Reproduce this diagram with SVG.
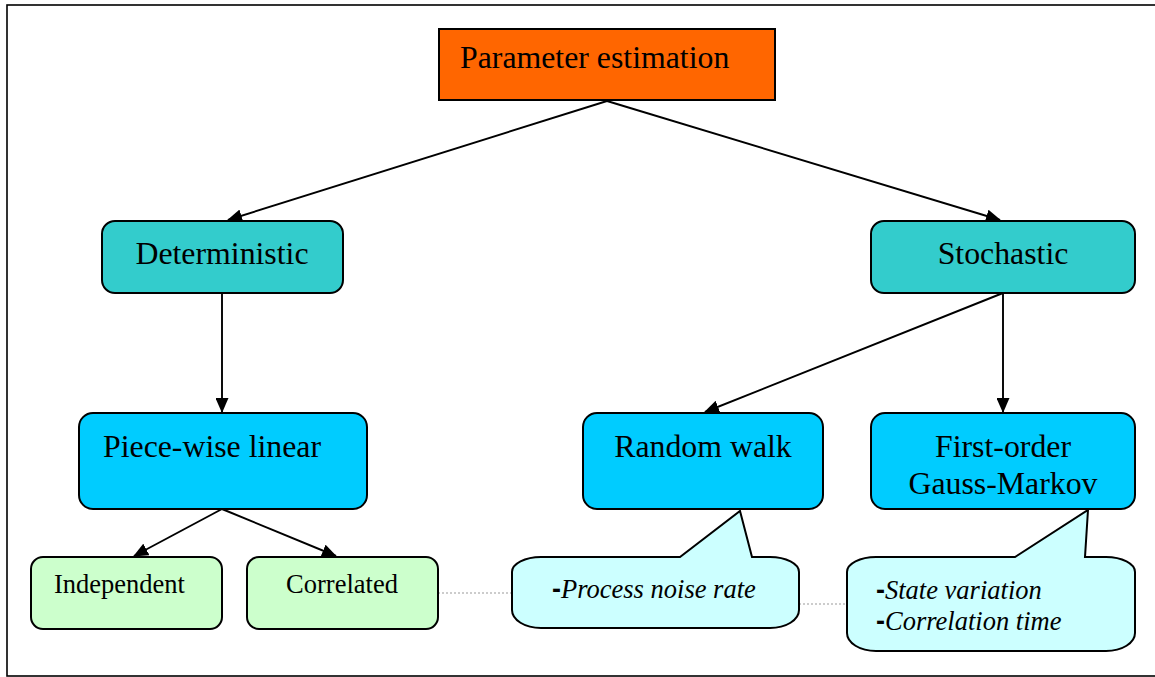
<svg xmlns="http://www.w3.org/2000/svg" width="1155" height="677" viewBox="0 0 1155 677">
<style>
.box{stroke:#000;stroke-width:2}
.t{font-family:"Liberation Serif","Times New Roman",serif;fill:#000}
.big{font-size:31.8px}
.sm{font-size:26.5px}
.it{font-style:italic}
.dash{font-family:"Liberation Sans",Arial,sans-serif;font-style:normal;font-size:27px;font-weight:bold}
.conn{stroke:#000;stroke-width:1.9;fill:none;marker-end:url(#ah)}
.dot{stroke:#999;stroke-width:1;stroke-dasharray:2,2;fill:none}
</style>
<defs>
<marker id="ah" markerUnits="userSpaceOnUse" markerWidth="15" markerHeight="13" refX="14" refY="6.5" orient="auto">
<path d="M0,0 L15,6.5 L0,13 z" fill="#000"/>
</marker>
</defs>
<rect x="0" y="0" width="1155" height="677" fill="#fff"/>
<rect x="7" y="5" width="1160" height="671" fill="none" stroke="#000" stroke-width="1.6"/>

<g id="connectors">
<line class="conn" x1="607" y1="101" x2="228" y2="220"/>
<line class="conn" x1="607" y1="101" x2="1000" y2="220"/>
<line class="conn" x1="222" y1="293" x2="222" y2="412"/>
<line class="conn" x1="222" y1="509" x2="134" y2="556"/>
<line class="conn" x1="222" y1="509" x2="336" y2="556"/>
<line class="conn" x1="1003" y1="293" x2="705" y2="412"/>
<line class="conn" x1="1003" y1="293" x2="1003" y2="412"/>
<line class="dot" x1="438" y1="593" x2="511" y2="593"/>
<line class="dot" x1="799" y1="604" x2="847" y2="604"/>
</g>

<g id="param">
<rect class="box" x="439" y="29" width="336" height="71" fill="#FF6600"/>
<text class="t big" x="460" y="68">Parameter estimation</text>
</g>

<g id="deterministic">
<rect class="box" x="102" y="221" width="241" height="72" rx="13" fill="#33CCCC"/>
<text class="t big" x="222" y="264" text-anchor="middle">Deterministic</text>
</g>

<g id="stochastic">
<rect class="box" x="871" y="221" width="264" height="72" rx="13" fill="#33CCCC"/>
<text class="t big" x="1003" y="264" text-anchor="middle">Stochastic</text>
</g>

<g id="piecewise">
<rect class="box" x="79" y="413" width="288" height="96" rx="14" fill="#00CCFF"/>
<text class="t big" x="103" y="457">Piece-wise linear</text>
</g>

<g id="randomwalk">
<rect class="box" x="583" y="413" width="240" height="96" rx="14" fill="#00CCFF"/>
<text class="t big" x="703" y="457" text-anchor="middle">Random walk</text>
</g>

<g id="gaussmarkov">
<rect class="box" x="871" y="413" width="264" height="96" rx="14" fill="#00CCFF"/>
<text class="t big" x="1003" y="457" text-anchor="middle">First-order</text>
<text class="t big" x="1003" y="494" text-anchor="middle">Gauss-Markov</text>
</g>

<g id="independent">
<rect class="box" x="31" y="557" width="191" height="72" rx="12" fill="#CCFFCC"/>
<text class="t sm" x="54" y="593">Independent</text>
</g>

<g id="correlated">
<rect class="box" x="247" y="557" width="191" height="72" rx="12" fill="#CCFFCC"/>
<text class="t sm" x="342" y="593" text-anchor="middle">Correlated</text>
</g>

<g id="callout1">
<path class="box" fill="#CCFFFF" d="M541,557 L680,557 L740,511 L752,557 L770,557 A29,15 0 0 1 799,572 L799,610 A29,18 0 0 1 770,628 L541,628 A29,18 0 0 1 512,610 L512,572 A29,15 0 0 1 541,557 Z"/>
<text class="t sm it" x="552" y="598"><tspan class="dash">-</tspan>Process noise rate</text>
</g>

<g id="callout2">
<path class="box" fill="#CCFFFF" d="M876,557 L1015,557 L1088,510 L1085,557 L1106,557 A29,15 0 0 1 1135,572 L1135,633 A29,18 0 0 1 1106,651 L876,651 A29,18 0 0 1 847,633 L847,572 A29,15 0 0 1 876,557 Z"/>
<text class="t sm it" x="876" y="599"><tspan class="dash">-</tspan>State variation</text>
<text class="t sm it" x="876" y="630"><tspan class="dash">-</tspan>Correlation time</text>
</g>
</svg>
